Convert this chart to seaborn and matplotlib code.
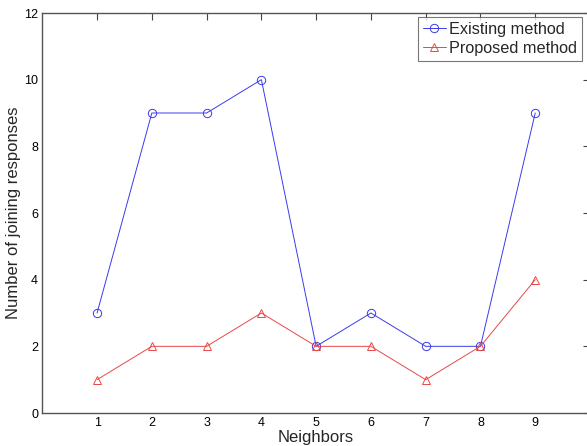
import matplotlib
matplotlib.use("Agg")
import matplotlib.pyplot as plt
import seaborn as sns
import pandas as pd

neighbors = [1, 2, 3, 4, 5, 6, 7, 8, 9]
existing = [3, 9, 9, 10, 2, 3, 2, 2, 9]
proposed = [1, 2, 2, 3, 2, 2, 1, 2, 4]
series_names = ["Existing method", "Proposed method"]
series_colors = ["#3a3aee", "#e84848"]

df = pd.DataFrame({
    "Neighbors": neighbors * 2,
    "value": existing + proposed,
    "method": [series_names[0]] * len(existing) + [series_names[1]] * len(proposed),
})

sns.set_style("white")
plt.rcParams["font.family"] = ["Liberation Sans", "DejaVu Sans"]

fig = plt.figure(figsize=(5.87, 4.46), dpi=100)
left_px, right_px = 42.3, 590.0
ax = fig.add_axes([left_px / 587, 1 - 413 / 446, (right_px - left_px) / 587, 400 / 446])

sns.lineplot(
    data=df, x="Neighbors", y="value", hue="method", style="method",
    palette=dict(zip(series_names, series_colors)),
    markers={series_names[0]: "o", series_names[1]: "^"},
    dashes=False, linewidth=0.7, markersize=6,
    ax=ax, legend=False,
)
# open markers in the series colour
for line, name, c in zip(ax.lines, series_names, series_colors):
    line.set_markerfacecolor("none")
    line.set_markeredgecolor(c)
    line.set_markeredgewidth(0.7)
    line.set_label(name)

ax.set_xlim(0, 10)
ax.set_ylim(0, 12)
ax.set_xticks(neighbors)
ax.set_yticks(range(0, 13, 2))
ax.tick_params(direction="in", length=5, width=0.8, color="#444444",
               labelsize=9, top=True, right=True, pad=3, labelcolor="black")
for s in ax.spines.values():
    s.set_visible(True)
    s.set_color("#555555")
    s.set_linewidth(1.0)

ax_w = right_px - left_px
ax.set_xlabel("Neighbors", fontsize=12)
ax.set_ylabel("Number of joining responses", fontsize=12)
ax.xaxis.set_label_coords(0.5, -17 / 400)
ax.yaxis.set_label_coords((21 - left_px) / ax_w, 0.5)

leg = ax.legend(handles=ax.lines, labels=series_names, loc="upper right",
                bbox_to_anchor=((582 - left_px) / ax_w, 1 - 4 / 400),
                fontsize=11.7, frameon=True, fancybox=False, edgecolor="#555555",
                borderpad=0.3, labelspacing=0.25, handlelength=1.42,
                handletextpad=0.2, borderaxespad=0.0)
leg.get_frame().set_linewidth(0.8)

fig.savefig("out.png", dpi=100)
